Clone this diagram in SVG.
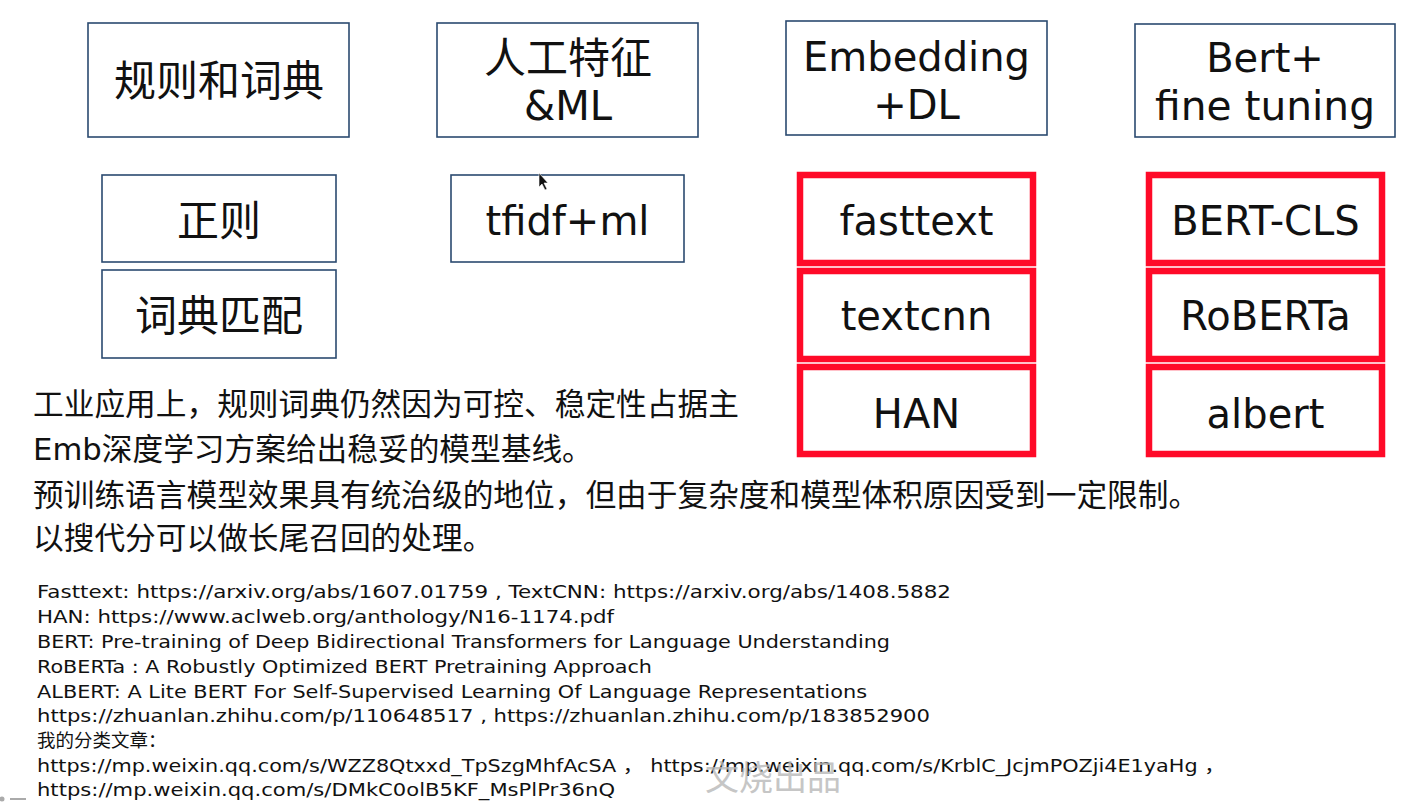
<svg xmlns="http://www.w3.org/2000/svg" width="1426" height="803" viewBox="0 0 1426 803">
  <defs>
    <style>
      .box { fill: #ffffff; stroke: #2b4a70; stroke-width: 1.6; }
      .hot { fill: #ffffff; stroke: #ff0a28; stroke-width: 6.5; }
      .lbl { font-family: "DejaVu Sans", "Noto Sans CJK SC", sans-serif; font-size: 40px; fill: #111111; text-anchor: middle; }
      .cjk { font-family: "Noto Sans CJK SC", "DejaVu Sans", sans-serif; font-size: 42px; fill: #111111; text-anchor: middle; }
      .para { font-family: "DejaVu Sans", "Noto Sans CJK SC", sans-serif; font-size: 30.7px; fill: #111111; }
      .ref { font-family: "DejaVu Sans", "Noto Sans CJK SC", sans-serif; font-size: 18.5px; fill: #111111; }
      .mark { font-family: "Noto Sans CJK SC", sans-serif; font-size: 34px; fill: #b8b8b8; opacity: 0.8; }
    </style>
  </defs>
  <rect width="1426" height="803" fill="#ffffff"/>

  <!-- category headers -->
  <g id="rules">
    <rect class="box" x="88" y="23" width="261" height="114"/>
    <text class="cjk" x="219" y="96">规则和词典</text>
  </g>
  <g id="features-ml">
    <rect class="box" x="437" y="23" width="261" height="114"/>
    <text class="cjk" x="568" y="73">人工特征</text>
    <text class="lbl" x="568" y="120">&amp;ML</text>
  </g>
  <g id="embedding-dl">
    <rect class="box" x="786" y="21" width="261" height="114"/>
    <text class="lbl" x="916.5" y="71">Embedding</text>
    <text class="lbl" x="916.5" y="119">+DL</text>
  </g>
  <g id="bert-finetune">
    <rect class="box" x="1135" y="24" width="260" height="113"/>
    <text class="lbl" x="1265" y="72">Bert+</text>
    <text class="lbl" x="1265" y="120" textLength="220" lengthAdjust="spacingAndGlyphs">fine tuning</text>
  </g>

  <!-- methods -->
  <g id="regex">
    <rect class="box" x="102" y="175" width="234" height="87"/>
    <text class="cjk" x="219" y="236">正则</text>
  </g>
  <g id="dict-match">
    <rect class="box" x="102" y="270" width="234" height="88"/>
    <text class="cjk" x="219" y="331">词典匹配</text>
  </g>
  <g id="tfidf-ml">
    <rect class="box" x="451" y="175" width="233" height="87"/>
    <text class="lbl" x="567.5" y="235">tfidf+ml</text>
  </g>

  <g id="fasttext">
    <rect class="hot" x="800" y="175" width="233" height="88"/>
    <text class="lbl" x="916.5" y="235">fasttext</text>
  </g>
  <g id="textcnn">
    <rect class="hot" x="800" y="271" width="233" height="88"/>
    <text class="lbl" x="916.5" y="330">textcnn</text>
  </g>
  <g id="han">
    <rect class="hot" x="800" y="367" width="233" height="87"/>
    <text class="lbl" x="916.5" y="428">HAN</text>
  </g>
  <g id="bert-cls">
    <rect class="hot" x="1149" y="175" width="233" height="88"/>
    <text class="lbl" x="1265.5" y="235">BERT-CLS</text>
  </g>
  <g id="roberta">
    <rect class="hot" x="1149" y="271" width="233" height="88"/>
    <text class="lbl" x="1265.5" y="330">RoBERTa</text>
  </g>
  <g id="albert">
    <rect class="hot" x="1149" y="367" width="233" height="87"/>
    <text class="lbl" x="1265.5" y="428">albert</text>
  </g>

  <!-- summary -->
  <g id="summary">
    <text class="para" x="33" y="415">工业应用上，规则词典仍然因为可控、稳定性占据主</text>
    <text class="para" x="33" y="460">Emb深度学习方案给出稳妥的模型基线。</text>
    <text class="para" x="33" y="506">预训练语言模型效果具有统治级的地位，但由于复杂度和模型体积原因受到一定限制。</text>
    <text class="para" x="33" y="549">以搜代分可以做长尾召回的处理。</text>
  </g>

  <!-- references -->
  <g id="references">
    <text class="ref" x="37" y="598" textLength="914" lengthAdjust="spacingAndGlyphs">Fasttext: https://arxiv.org/abs/1607.01759 , TextCNN: https://arxiv.org/abs/1408.5882</text>
    <text class="ref" x="37" y="623" textLength="577" lengthAdjust="spacingAndGlyphs">HAN: https://www.aclweb.org/anthology/N16-1174.pdf</text>
    <text class="ref" x="37" y="648" textLength="853" lengthAdjust="spacingAndGlyphs">BERT: Pre-training of Deep Bidirectional Transformers for Language Understanding</text>
    <text class="ref" x="37" y="673" textLength="615" lengthAdjust="spacingAndGlyphs">RoBERTa : A Robustly Optimized BERT Pretraining Approach</text>
    <text class="ref" x="37" y="698" textLength="830" lengthAdjust="spacingAndGlyphs">ALBERT: A Lite BERT For Self-Supervised Learning Of Language Representations</text>
    <text class="ref" x="37" y="722" textLength="893" lengthAdjust="spacingAndGlyphs">https://zhuanlan.zhihu.com/p/110648517 , https://zhuanlan.zhihu.com/p/183852900</text>
    <text class="ref" x="37" y="747">我的分类文章：</text>
    <text class="ref" x="37" y="772" textLength="1188" lengthAdjust="spacingAndGlyphs">https://mp.weixin.qq.com/s/WZZ8Qtxxd_TpSzgMhfAcSA ， https://mp.weixin.qq.com/s/KrblC_JcjmPOZji4E1yaHg ，</text>
    <text class="ref" x="37" y="796" textLength="578" lengthAdjust="spacingAndGlyphs">https://mp.weixin.qq.com/s/DMkC0olB5KF_MsPlPr36nQ</text>
  </g>

  <!-- semi-transparent watermark over the link list -->
  <text class="mark" x="705" y="790">文烧出品</text>

  <!-- pointer -->
  <path d="M539,173 L539,187 L542,184 L545,190 L547,189 L544,183 L548,183 Z" fill="#111111" stroke="#ffffff" stroke-width="0.6"/>
  <!-- player scrub mark -->
  <circle cx="2" cy="799" r="2.5" fill="#aaaaaa"/>
  <rect x="10" y="798" width="16" height="2" fill="#aaaaaa"/>
</svg>
